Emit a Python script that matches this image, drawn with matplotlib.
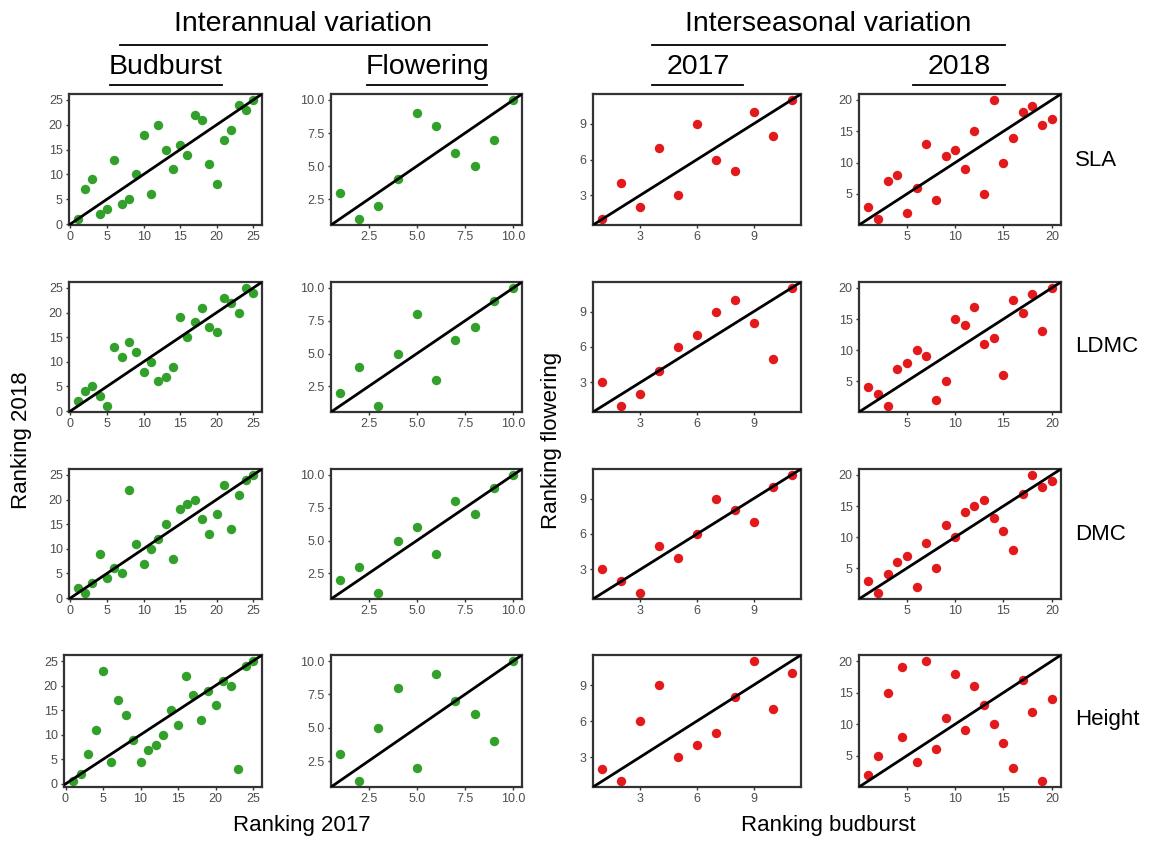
import matplotlib
matplotlib.use("Agg")
from matplotlib import pyplot as plt
from matplotlib.lines import Line2D
from matplotlib.ticker import FormatStrFormatter
import numpy as np

plt.rcParams['font.family'] = ['Liberation Sans', 'DejaVu Sans']

# ---- data: (x = ranking, y = ranking) per trait row / comparison column ----
traits = ['SLA', 'LDMC', 'DMC', 'Height']

# Interannual, budburst (2017 vs 2018)
bud_x = list(range(1, 26))
bud_sla_y = [1, 7, 9, 2, 3, 13, 4, 5, 10, 18, 6, 20, 15, 11, 16, 14, 22, 21, 12, 8, 17, 19, 24, 23, 25]
bud_ldmc_y = [2, 4, 5, 3, 1, 13, 11, 14, 12, 8, 10, 6, 7, 9, 19, 15, 18, 21, 17, 16, 23, 22, 20, 25, 24]
bud_dmc_y = [2, 1, 3, 9, 4, 6, 5, 22, 11, 7, 10, 12, 15, 8, 18, 19, 20, 16, 13, 17, 23, 14, 21, 24, 25]
bud_height_y = [0.6, 2, 6, 11, 23, 4.5, 17, 14, 9, 4.5, 7, 8, 10, 15, 12, 22, 18, 13, 19, 16, 21, 20, 3, 24, 25]

# Interannual, flowering (2017 vs 2018)
flo_x = list(range(1, 11))
flo_sla_y = [3, 1, 2, 4, 9, 8, 6, 5, 7, 10]
flo_ldmc_y = [2, 4, 1, 5, 8, 3, 6, 7, 9, 10]
flo_dmc_y = [2, 3, 1, 5, 6, 4, 8, 7, 9, 10]
flo_height_y = [3, 1, 5, 8, 2, 9, 7, 6, 4, 10]

# Interseasonal 2017 (budburst vs flowering)
s17_x = list(range(1, 12))
s17_sla_y = [1, 4, 2, 7, 3, 9, 6, 5, 10, 8, 11]
s17_ldmc_y = [3, 1, 2, 4, 6, 7, 9, 10, 8, 5, 11]
s17_dmc_y = [3, 2, 1, 5, 4, 6, 9, 8, 7, 10, 11]
s17_height_y = [2, 1, 6, 9, 3, 4, 5, 8, 11, 7, 10]

# Interseasonal 2018 (budburst vs flowering)
s18_x = list(range(1, 21))
s18_sla_y = [3, 1, 7, 8, 2, 6, 13, 4, 11, 12, 9, 15, 5, 20, 10, 14, 18, 19, 16, 17]
s18_ldmc_y = [4, 3, 1, 7, 8, 10, 9, 2, 5, 15, 14, 17, 11, 12, 6, 18, 16, 19, 13, 20]
s18_dmc_y = [3, 1, 4, 6, 7, 2, 9, 5, 12, 10, 14, 15, 16, 13, 11, 8, 17, 20, 18, 19]
s18_height_x = [1, 2, 3, 4.5, 4.5, 6, 7, 8, 9, 10, 11, 12, 13, 14, 15, 16, 17, 18, 19, 20]
s18_height_y = [2, 5, 15, 19, 8, 4, 20, 6, 11, 18, 9, 16, 13, 10, 7, 3, 17, 12, 1, 14]

panels = [
    [(bud_x, bud_sla_y), (flo_x, flo_sla_y), (s17_x, s17_sla_y), (s18_x, s18_sla_y)],
    [(bud_x, bud_ldmc_y), (flo_x, flo_ldmc_y), (s17_x, s17_ldmc_y), (s18_x, s18_ldmc_y)],
    [(bud_x, bud_dmc_y), (flo_x, flo_dmc_y), (s17_x, s17_dmc_y), (s18_x, s18_dmc_y)],
    [(bud_x, bud_height_y), (flo_x, flo_height_y), (s17_x, s17_height_y), (s18_height_x, s18_height_y)],
]

col_ticks = [[0, 5, 10, 15, 20, 25], [2.5, 5.0, 7.5, 10.0], [3, 6, 9], [5, 10, 15, 20]]
col_colors = ['#33A02C', '#33A02C', '#E31A1C', '#E31A1C']

W, H = 1150, 841
fig = plt.figure(figsize=(W / 100, H / 100), dpi=100)

lefts = [69, 331, 593, 859]
rights = [262, 522, 801, 1061]
tops = [94, 282, 469, 655]
bottoms = [225, 412, 599, 787]


def expand(v):
    lo, hi = min(v), max(v)
    pad = 0.05 * (hi - lo)
    return lo - pad, hi + pad


for r in range(4):
    for c in range(4):
        x, y = panels[r][c]
        left = lefts[c]
        if r == 3 and c == 0:
            left = 64  # bottom-left panel sits a little wider
        ax = fig.add_axes([left / W, 1 - bottoms[r] / H,
                           (rights[c] - left) / W, (bottoms[r] - tops[r]) / H])
        ax.scatter(x, y, s=46, color=col_colors[c], linewidths=0, zorder=2)
        ax.axline((0, 0), slope=1, color='black', lw=2.0, zorder=3)
        ax.set_xlim(expand(x))
        ax.set_ylim(expand(y))
        ax.set_xticks(col_ticks[c])
        ax.set_yticks(col_ticks[c])
        if c == 1:
            ax.xaxis.set_major_formatter(FormatStrFormatter('%.1f'))
            ax.yaxis.set_major_formatter(FormatStrFormatter('%.1f'))
        for sp in ax.spines.values():
            sp.set_color('#333333')
            sp.set_linewidth(1.6)
        ax.tick_params(length=2.5, width=1.0, color='#333333', labelsize=9,
                       labelcolor='#4D4D4D', pad=2)

# column headers
def ftext(px, py, s, **kw):
    fig.text(px / W, 1 - py / H, s, ha='center', va='center', **kw)


def fline(x0, x1, py):
    fig.add_artist(Line2D([x0 / W, x1 / W], [1 - py / H, 1 - py / H],
                          color='black', lw=1.3, transform=fig.transFigure))


ftext(303, 24, 'Interannual variation', fontsize=20.5)
fline(120, 487, 45)
ftext(828, 24, 'Interseasonal variation', fontsize=20.5)
fline(652, 1005, 45)

subheads = [('Budburst', 166, 110, 222), ('Flowering', 427, 367, 487),
            ('2017', 698, 652, 743), ('2018', 959, 913, 1005)]
for label, cx, x0, x1 in subheads:
    ftext(cx, 67, label, fontsize=20.5)
    fline(x0, x1, 85)

# axis titles
ftext(302, 826, 'Ranking 2017', fontsize=16)
ftext(828, 826, 'Ranking budburst', fontsize=16)
ftext(22, 440, 'Ranking 2018', fontsize=16, rotation=90)
ftext(551, 440, 'Ranking flowering', fontsize=16, rotation=90)

# row labels
row_y = [160, 347, 535, 720]
for lab, py in zip(traits, row_y):
    fig.text(1075 / W, 1 - py / H, lab, ha='left', va='center', fontsize=16)

fig.savefig('out.png', dpi=100)
